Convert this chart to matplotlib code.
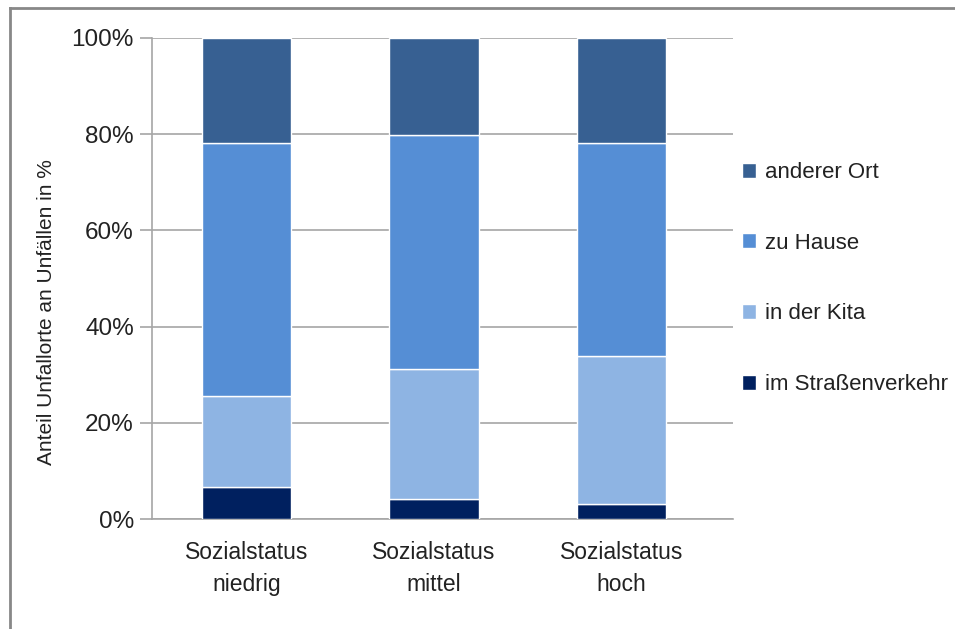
import matplotlib.pyplot as plt
import numpy as np
from matplotlib.lines import Line2D

plt.rcParams['font.family'] = ['Liberation Sans', 'DejaVu Sans']

kategorien = ['Sozialstatus\nniedrig', 'Sozialstatus\nmittel', 'Sozialstatus\nhoch']
strasse = [6.6, 4.2, 3.1]
kita = [18.9, 26.9, 30.7]
zuhause = [52.6, 48.8, 44.3]
anderer = [21.9, 20.1, 21.9]

serien = ['im Straßenverkehr', 'in der Kita', 'zu Hause', 'anderer Ort']
farben = ['#00205F', '#8EB4E3', '#558ED5', '#376092']
werte = [strasse, kita, zuhause, anderer]

fig = plt.figure(figsize=(9.55, 6.29), dpi=100)
ax = fig.add_axes([152/955, 1-519/629, (733-152)/955, (519-38)/629])

x = np.arange(len(kategorien))
unten = np.zeros(len(kategorien))
balken = []
for name, farbe, w in zip(serien, farben, werte):
    b = ax.bar(x, w, width=0.477, bottom=unten, color=farbe, edgecolor='white',
               linewidth=1.0, label=name, zorder=3)
    balken.append(b)
    unten = unten + np.array(w)

ax.set_xlim(-0.503, 2.594)
ax.set_ylim(0, 100)
ax.set_yticks([0, 20, 40, 60, 80, 100])
ax.set_yticklabels(['0%', '20%', '40%', '60%', '80%', '100%'], fontsize=17.5, color='#222222')
ax.set_xticks(x)
ax.set_xticklabels(kategorien, fontsize=16.5, color='#222222', linespacing=1.5)
ax.tick_params(axis='x', length=0, pad=16)
ax.tick_params(axis='y', length=9, color='#A6A6A6', width=1.2, pad=4)
ax.yaxis.grid(True, color='#A6A6A6', linewidth=1.2, zorder=0)
for s in ['top', 'right']:
    ax.spines[s].set_visible(False)
for s in ['left', 'bottom']:
    ax.spines[s].set_color('#A6A6A6')
    ax.spines[s].set_linewidth(1.2)
ax.set_ylabel('Anteil Unfallorte an Unfällen in %', fontsize=15, color='#222222')
ax.yaxis.set_label_coords(-(152 - 56) / 581, (519 - 312) / 481)

# Legende in umgekehrter Reihenfolge
leg = fig.legend([b for b in balken[::-1]], serien[::-1], loc='upper left',
                 bbox_to_anchor=(733/955, 1-153/629), frameon=False, fontsize=16,
                 handlelength=0.65, handleheight=0.65, handletextpad=0.4,
                 labelspacing=2.24, borderaxespad=0)
for t in leg.get_texts():
    t.set_color('#222222')

# Rahmen oben und links
fig.add_artist(Line2D([10/955, 1], [1-8/629, 1-8/629], color='#888888', linewidth=2))
fig.add_artist(Line2D([10/955, 10/955], [0, 1-8/629], color='#888888', linewidth=2))

fig.savefig('out.png', dpi=100)
